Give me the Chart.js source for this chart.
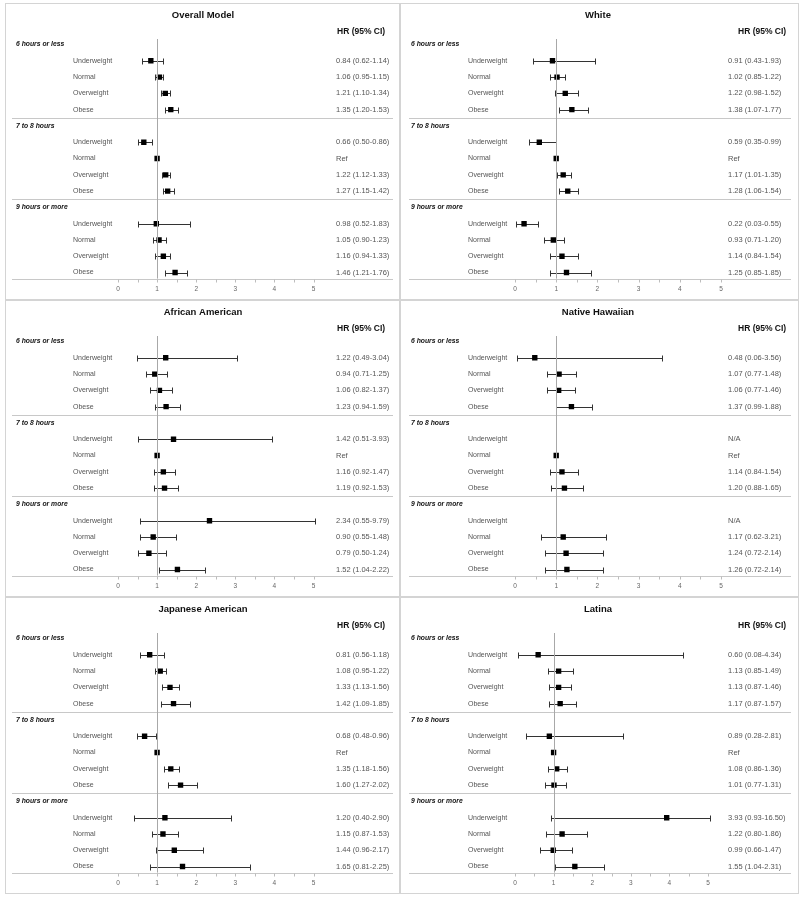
<!DOCTYPE html>
<html>
<head>
<meta charset="utf-8">
<script src="https://cdn.jsdelivr.net/npm/chart.js@4.4.1/dist/chart.umd.min.js"></script>
<style>
  body { margin: 0; background: #fff; width: 800px; height: 897px; position: relative; overflow: hidden; }
  .panel { position: absolute; }
</style>
</head>
<body>
<div class="panel" style="left:5px;top:3px;width:395px;height:297px"><canvas id="c0"></canvas></div>
<div class="panel" style="left:400px;top:3px;width:399px;height:297px"><canvas id="c1"></canvas></div>
<div class="panel" style="left:5px;top:300px;width:395px;height:297px"><canvas id="c2"></canvas></div>
<div class="panel" style="left:400px;top:300px;width:399px;height:297px"><canvas id="c3"></canvas></div>
<div class="panel" style="left:5px;top:597px;width:395px;height:297px"><canvas id="c4"></canvas></div>
<div class="panel" style="left:400px;top:597px;width:399px;height:297px"><canvas id="c5"></canvas></div>
<script>
const panelTitles = ['Overall Model', 'White', 'African American', 'Native Hawaiian', 'Japanese American', 'Latina'];
const sleepGroups = ['6 hours or less', '7 to 8 hours', '9 hours or more'];
const bmiCategories = ['Underweight', 'Normal', 'Overweight', 'Obese'];
const axisTicks = [0, 1, 2, 3, 4, 5];

// rows: 6h (UW, N, OW, Ob), 7-8h (...), 9h (...). null = not shown
// lo/hi are the whiskers as drawn (very wide ones are cut at the axis end)
const overallHr = [0.84, 1.06, 1.21, 1.35, 0.66, 1, 1.22, 1.27, 0.98, 1.05, 1.16, 1.46];
const overallLo = [0.62, 0.95, 1.10, 1.20, 0.50, null, 1.12, 1.15, 0.52, 0.90, 0.94, 1.21];
const overallHi = [1.14, 1.15, 1.34, 1.53, 0.86, null, 1.33, 1.42, 1.83, 1.23, 1.33, 1.76];
const overallText = ['0.84 (0.62-1.14)', '1.06 (0.95-1.15)', '1.21 (1.10-1.34)', '1.35 (1.20-1.53)',
  '0.66 (0.50-0.86)', 'Ref', '1.22 (1.12-1.33)', '1.27 (1.15-1.42)',
  '0.98 (0.52-1.83)', '1.05 (0.90-1.23)', '1.16 (0.94-1.33)', '1.46 (1.21-1.76)'];

const whiteHr = [0.91, 1.02, 1.22, 1.38, 0.59, 1, 1.17, 1.28, 0.22, 0.93, 1.14, 1.25];
const whiteLo = [0.43, 0.85, 0.98, 1.07, 0.35, null, 1.01, 1.06, 0.03, 0.71, 0.84, 0.85];
const whiteHi = [1.93, 1.22, 1.52, 1.77, 0.99, null, 1.35, 1.54, 0.55, 1.20, 1.54, 1.85];
const whiteText = ['0.91 (0.43-1.93)', '1.02 (0.85-1.22)', '1.22 (0.98-1.52)', '1.38 (1.07-1.77)',
  '0.59 (0.35-0.99)', 'Ref', '1.17 (1.01-1.35)', '1.28 (1.06-1.54)',
  '0.22 (0.03-0.55)', '0.93 (0.71-1.20)', '1.14 (0.84-1.54)', '1.25 (0.85-1.85)'];

const africanHr = [1.22, 0.94, 1.06, 1.23, 1.42, 1, 1.16, 1.19, 2.34, 0.90, 0.79, 1.52];
const africanLo = [0.49, 0.71, 0.82, 0.94, 0.51, null, 0.92, 0.92, 0.55, 0.55, 0.50, 1.04];
const africanHi = [3.04, 1.25, 1.37, 1.59, 3.93, null, 1.47, 1.53, 5.05, 1.48, 1.24, 2.22];
const africanText = ['1.22 (0.49-3.04)', '0.94 (0.71-1.25)', '1.06 (0.82-1.37)', '1.23 (0.94-1.59)',
  '1.42 (0.51-3.93)', 'Ref', '1.16 (0.92-1.47)', '1.19 (0.92-1.53)',
  '2.34 (0.55-9.79)', '0.90 (0.55-1.48)', '0.79 (0.50-1.24)', '1.52 (1.04-2.22)'];

const hawaiianHr = [0.48, 1.07, 1.06, 1.37, null, 1, 1.14, 1.20, null, 1.17, 1.24, 1.26];
const hawaiianLo = [0.06, 0.77, 0.77, 0.99, null, null, 0.84, 0.88, null, 0.62, 0.72, 0.72];
const hawaiianHi = [3.56, 1.48, 1.46, 1.88, null, null, 1.54, 1.65, null, 2.22, 2.14, 2.14];
const hawaiianText = ['0.48 (0.06-3.56)', '1.07 (0.77-1.48)', '1.06 (0.77-1.46)', '1.37 (0.99-1.88)',
  'N/A', 'Ref', '1.14 (0.84-1.54)', '1.20 (0.88-1.65)',
  'N/A', '1.17 (0.62-3.21)', '1.24 (0.72-2.14)', '1.26 (0.72-2.14)'];

const japaneseHr = [0.81, 1.08, 1.33, 1.42, 0.68, 1, 1.35, 1.60, 1.20, 1.15, 1.44, 1.65];
const japaneseLo = [0.56, 0.95, 1.13, 1.09, 0.48, null, 1.18, 1.27, 0.40, 0.87, 0.96, 0.81];
const japaneseHi = [1.18, 1.22, 1.56, 1.85, 0.96, null, 1.56, 2.02, 2.90, 1.53, 2.17, 3.37];
const japaneseText = ['0.81 (0.56-1.18)', '1.08 (0.95-1.22)', '1.33 (1.13-1.56)', '1.42 (1.09-1.85)',
  '0.68 (0.48-0.96)', 'Ref', '1.35 (1.18-1.56)', '1.60 (1.27-2.02)',
  '1.20 (0.40-2.90)', '1.15 (0.87-1.53)', '1.44 (0.96-2.17)', '1.65 (0.81-2.25)'];

const latinaHr = [0.60, 1.13, 1.13, 1.17, 0.89, 1, 1.08, 1.01, 3.93, 1.22, 0.99, 1.55];
const latinaLo = [0.08, 0.85, 0.87, 0.87, 0.28, null, 0.86, 0.77, 0.93, 0.80, 0.66, 1.04];
const latinaHi = [4.34, 1.49, 1.46, 1.57, 2.81, null, 1.36, 1.31, 5.05, 1.86, 1.47, 2.31];
const latinaText = ['0.60 (0.08-4.34)', '1.13 (0.85-1.49)', '1.13 (0.87-1.46)', '1.17 (0.87-1.57)',
  '0.89 (0.28-2.81)', 'Ref', '1.08 (0.86-1.36)', '1.01 (0.77-1.31)',
  '3.93 (0.93-16.50)', '1.22 (0.80-1.86)', '0.99 (0.66-1.47)', '1.55 (1.04-2.31)'];

// pixel layout of each panel (x0 = where HR 0 sits, unit = px per HR unit)
const layouts = [
  { x0: 113, unit: 39.1, axL: 7, axR: 388, valX: 331, hdrX: 332 },
  { x0: 115, unit: 41.2, axL: 9, axR: 391, valX: 328, hdrX: 338 },
  { x0: 113, unit: 39.1, axL: 7, axR: 388, valX: 331, hdrX: 332 },
  { x0: 115, unit: 41.2, axL: 9, axR: 391, valX: 328, hdrX: 338 },
  { x0: 113, unit: 39.1, axL: 7, axR: 388, valX: 331, hdrX: 332 },
  { x0: 115, unit: 38.6, axL: 9, axR: 391, valX: 328, hdrX: 338 }
];

const FONT = '"Liberation Sans", Arial, sans-serif';
const rowOf = k => Math.floor(k / 4) * 5 + (k % 4) + 1;

const forestPlugin = {
  id: 'forest',
  beforeDraw(chart, args, o) {
    const { ctx, width, height } = chart;
    ctx.save();
    ctx.fillStyle = '#fff';
    ctx.fillRect(0, 0, width, height);
    ctx.strokeStyle = '#d4d4d4';
    ctx.lineWidth = 1;
    ctx.strokeRect(0.5, 0.5, width - 1, height - 1);
    ctx.fillStyle = '#111';
    ctx.textBaseline = 'middle';
    ctx.textAlign = 'center';
    ctx.font = 'bold 9.5px ' + FONT;
    ctx.fillText(o.title, 198, 12.5);
    ctx.textAlign = 'left';
    ctx.font = 'bold 8.5px ' + FONT;
    ctx.fillText('HR (95% CI)', o.hdrX, 28.5);
    ctx.restore();
  },
  beforeDatasetsDraw(chart, args, o) {
    const { ctx, chartArea: a, scales: { x, y } } = chart;
    ctx.save();
    ctx.lineWidth = 1;
    // group separators and the axis line
    ctx.strokeStyle = '#c8c8c8';
    [4.5, 9.5].forEach(v => {
      const py = Math.round(y.getPixelForValue(v)) + 0.5;
      ctx.beginPath(); ctx.moveTo(a.left, py); ctx.lineTo(a.right, py); ctx.stroke();
    });
    const axY = Math.round(a.bottom) + 0.5;
    ctx.beginPath(); ctx.moveTo(a.left, axY); ctx.lineTo(a.right, axY); ctx.stroke();
    // ticks every 0.5 and labels at integers
    ctx.strokeStyle = '#bdbdbd';
    for (let t = 0; t <= 5; t += 0.5) {
      const px = Math.round(x.getPixelForValue(t)) + 0.5;
      ctx.beginPath(); ctx.moveTo(px, axY); ctx.lineTo(px, axY + 3); ctx.stroke();
    }
    ctx.fillStyle = '#666';
    ctx.font = '6.5px ' + FONT;
    ctx.textAlign = 'center';
    ctx.textBaseline = 'middle';
    axisTicks.forEach(t => ctx.fillText(String(t), x.getPixelForValue(t), axY + 10));
    // row texts
    ctx.textAlign = 'left';
    sleepGroups.forEach((g, gi) => {
      ctx.fillStyle = '#111';
      ctx.font = 'italic bold 6.8px ' + FONT;
      ctx.fillText(g, 11, y.getPixelForValue(gi * 5));
    });
    for (let k = 0; k < 12; k++) {
      const py = y.getPixelForValue(rowOf(k));
      ctx.fillStyle = '#555';
      ctx.font = '7px ' + FONT;
      ctx.fillText(bmiCategories[k % 4], 68, py);
      ctx.font = '7.5px ' + FONT;
      ctx.fillText(o.text[k], o.valX, py);
    }
    // confidence interval whiskers
    ctx.strokeStyle = '#333';
    for (let k = 0; k < 12; k++) {
      if (o.lo[k] === null || o.hi[k] === null) continue;
      const py = Math.round(y.getPixelForValue(rowOf(k))) + 0.5;
      const l = Math.round(x.getPixelForValue(o.lo[k])) + 0.5;
      const r = Math.round(x.getPixelForValue(o.hi[k])) + 0.5;
      ctx.beginPath();
      ctx.moveTo(l, py); ctx.lineTo(r, py);
      ctx.moveTo(l, py - 3); ctx.lineTo(l, py + 3);
      ctx.moveTo(r, py - 3); ctx.lineTo(r, py + 3);
      ctx.stroke();
    }
    ctx.restore();
  },
  afterDatasetsDraw(chart) {
    const { ctx, chartArea: a, scales: { x } } = chart;
    const px = Math.round(x.getPixelForValue(1)) + 0.5;
    ctx.save();
    ctx.strokeStyle = '#a8a8a8';
    ctx.lineWidth = 1;
    ctx.beginPath(); ctx.moveTo(px, a.top); ctx.lineTo(px, a.bottom); ctx.stroke();
    ctx.restore();
  }
};

function makePanel(idx, hr, lo, hi, text) {
  const L = layouts[idx];
  const canvas = document.getElementById('c' + idx);
  const h = canvas.parentNode.clientHeight;
  const w = canvas.parentNode.clientWidth;
  const points = [];
  hr.forEach((v, k) => { if (v !== null) points.push({ x: v, y: rowOf(k) }); });
  const rowTop = 41.5, rowStep = 16.29, plotTop = 36, plotBottom = 275.6;
  new Chart(canvas, {
    type: 'scatter',
    data: {
      datasets: [{
        data: points,
        pointStyle: 'rect',
        radius: 3.8,
        backgroundColor: '#000',
        borderColor: '#000',
        borderWidth: 0
      }]
    },
    options: {
      responsive: true,
      maintainAspectRatio: false,
      animation: false,
      events: [],
      layout: { padding: { left: L.axL, right: w - L.axR, top: plotTop, bottom: h - plotBottom } },
      scales: {
        x: { type: 'linear', display: false, min: -(L.x0 - L.axL) / L.unit, max: (L.axR - L.x0) / L.unit },
        y: { type: 'linear', display: false, reverse: true,
             min: -(rowTop - plotTop) / rowStep, max: (plotBottom - rowTop) / rowStep }
      },
      plugins: {
        legend: { display: false },
        tooltip: { enabled: false },
        forest: { title: panelTitles[idx], hdrX: L.hdrX, valX: L.valX, lo: lo, hi: hi, text: text }
      }
    },
    plugins: [forestPlugin]
  });
}

makePanel(0, overallHr, overallLo, overallHi, overallText);
makePanel(1, whiteHr, whiteLo, whiteHi, whiteText);
makePanel(2, africanHr, africanLo, africanHi, africanText);
makePanel(3, hawaiianHr, hawaiianLo, hawaiianHi, hawaiianText);
makePanel(4, japaneseHr, japaneseLo, japaneseHi, japaneseText);
makePanel(5, latinaHr, latinaLo, latinaHi, latinaText);
</script>
</body>
</html>
